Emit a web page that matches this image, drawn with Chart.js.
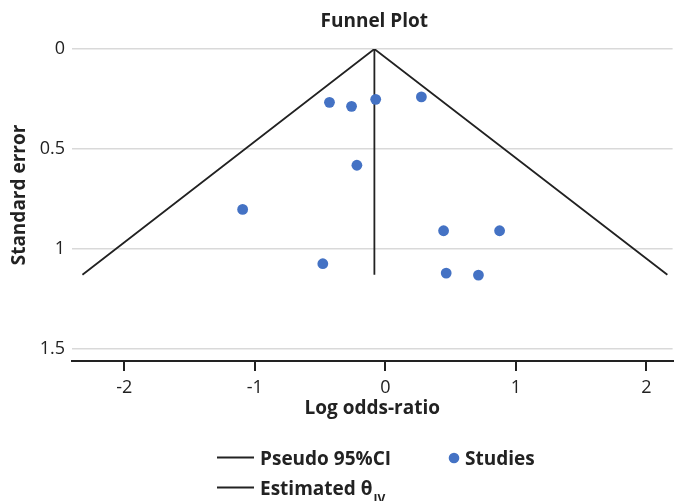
<!DOCTYPE html>
<html><head><meta charset="utf-8">
<script src="https://cdn.jsdelivr.net/npm/chart.js@4.4.0/dist/chart.umd.min.js"></script>
<style>html,body{margin:0;padding:0;background:#fff}#wrap{width:678px;height:501px}</style>
</head><body><div id="wrap"><canvas id="c" width="678" height="501"></canvas></div>
<script>
// Data
const studyX  = [-0.428, -0.259, -0.074, 0.276, -0.218, -1.093, 0.446, 0.875, -0.479, 0.466, 0.713];
const studySE = [0.267, 0.287, 0.252, 0.240, 0.582, 0.803, 0.910, 0.910, 1.075, 1.122, 1.132];
const ciX  = [-2.32, -0.084, 2.16];
const ciSE = [1.13, 0, 1.13];
const thetaX  = [-0.084, -0.084];
const thetaSE = [0, 1.13];
const xTicks = [-2, -1, 0, 1, 2];
const yTicks = [0, 0.5, 1, 1.5];

const FONT = "'Open Sans', 'DejaVu Sans', sans-serif";
const INK = '#222222';
const BLUE = '#4472c4';

const decor = {
  id: 'decor',
  afterDraw(chart) {
    const ctx = chart.ctx;
    const ds = chart.data.datasets;
    ctx.save();
    ctx.fillStyle = INK;
    // Title
    ctx.font = "bold 19px " + FONT;
    ctx.textAlign = 'center';
    ctx.textBaseline = 'alphabetic';
    const ca = chart.chartArea;
    ctx.fillText('Funnel Plot', (ca.left + ca.right) / 2 + 2, 27);
    // Y title
    ctx.save();
    ctx.translate(25, 195);
    ctx.rotate(-Math.PI / 2);
    ctx.fillText('Standard error', 0, 0);
    ctx.restore();
    // Legend
    ctx.textAlign = 'left';
    ctx.font = "bold 19px " + FONT;
    ctx.strokeStyle = INK;
    ctx.lineWidth = 1.8;
    // row 1: Pseudo 95%CI
    ctx.beginPath(); ctx.moveTo(217, 457.5); ctx.lineTo(254, 457.5); ctx.stroke();
    ctx.fillText(ds[2].label, 260, 465);
    // Studies
    ctx.fillStyle = ds[0].backgroundColor;
    ctx.beginPath(); ctx.arc(454, 458, 5.3, 0, Math.PI * 2); ctx.fill();
    ctx.fillStyle = INK;
    ctx.fillText(ds[0].label, 465, 465);
    // row 2: Estimated theta_IV
    ctx.beginPath(); ctx.moveTo(217, 487.5); ctx.lineTo(254, 487.5); ctx.stroke();
    const main = 'Estimated \u03B8';
    ctx.fillText(main, 260, 495);
    const w = ctx.measureText(main).width;
    ctx.font = "bold 12px " + FONT;
    ctx.fillText('IV', 260 + w + 1, 503);
    ctx.restore();
  }
};

new Chart(document.getElementById('c'), {
  type: 'scatter',
  data: {
    datasets: [
      {
        label: 'Studies',
        data: studyX.map((x, i) => ({ x: x, y: studySE[i] })),
        backgroundColor: BLUE,
        borderWidth: 0,
        pointRadius: 5.4,
        showLine: false
      },
      {
        label: 'Estimated \u03B8IV',
        data: thetaX.map((x, i) => ({ x: x, y: thetaSE[i] })),
        borderColor: INK,
        borderWidth: 1.8,
        pointRadius: 0,
        showLine: true,
        fill: false
      },
      {
        label: 'Pseudo 95%CI',
        data: ciX.map((x, i) => ({ x: x, y: ciSE[i] })),
        borderColor: INK,
        borderWidth: 1.8,
        pointRadius: 0,
        showLine: true,
        fill: false
      }
    ]
  },
  options: {
    responsive: false,
    animation: false,
    devicePixelRatio: 1,
    layout: { padding: { top: 49, left: 0, right: 2, bottom: 80 } },
    plugins: {
      legend: { display: false },
      tooltip: { enabled: false },
      title: { display: false }
    },
    scales: {
      x: {
        type: 'linear',
        min: -2.4,
        max: 2.2,
        afterBuildTicks: ax => { ax.ticks = xTicks.map(v => ({ value: v })); },
        afterFit: ax => { ax.height = 60; },
        grid: { drawOnChartArea: false, drawTicks: true, tickLength: 10, color: INK, lineWidth: 2 },
        border: { display: true, color: INK, width: 2 },
        ticks: { font: { family: FONT, size: 18 }, color: INK, padding: 6, maxRotation: 0 },
        title: { display: true, text: 'Log odds-ratio', color: INK,
                 font: { family: FONT, size: 19, weight: 'bold' }, padding: { top: 0, bottom: 1 } }
      },
      y: {
        type: 'linear',
        reverse: true,
        min: 0,
        max: 1.562,
        afterBuildTicks: ax => { ax.ticks = yTicks.map(v => ({ value: v })); },
        afterFit: ax => { ax.width = 72; },
        grid: { color: '#d9d9d9', lineWidth: 1.5, drawTicks: false },
        border: { display: false },
        ticks: { font: { family: FONT, size: 18 }, color: INK, padding: 7,
                 callback: v => String(v) }
      }
    }
  },
  plugins: [decor]
});
</script>
</body></html>
